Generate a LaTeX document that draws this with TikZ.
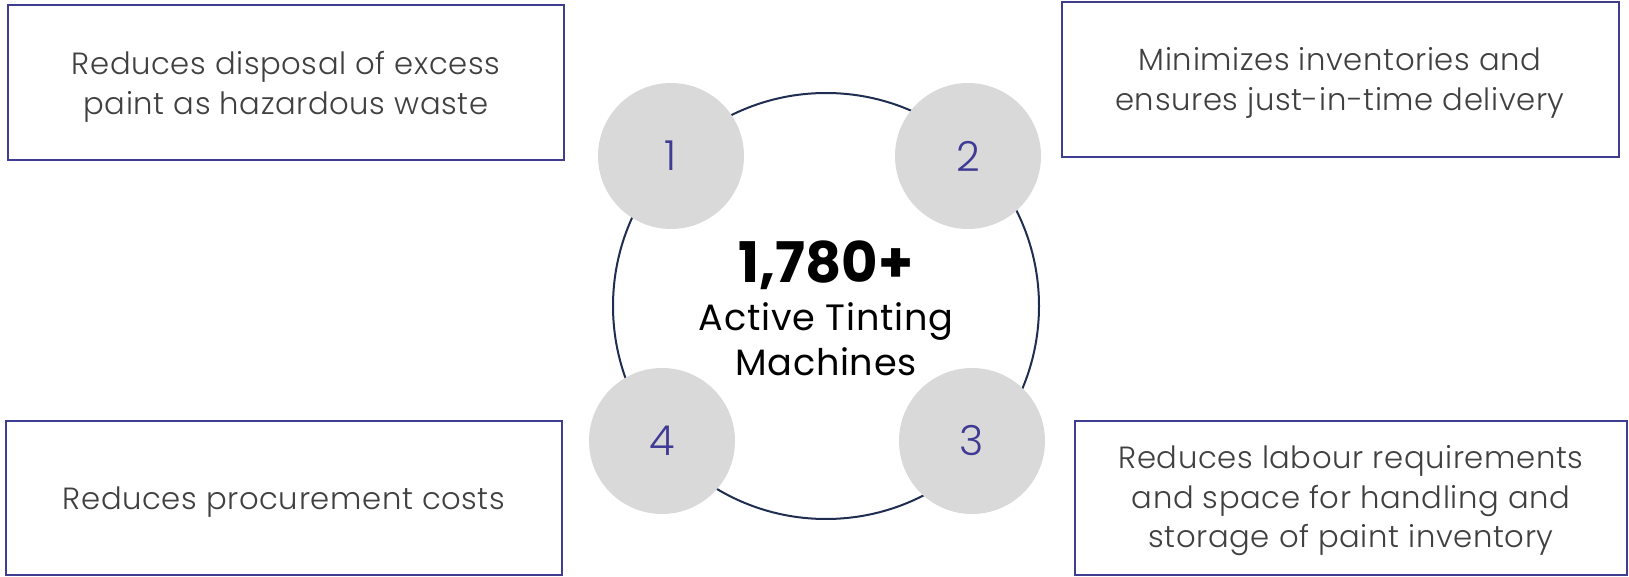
\documentclass[tikz,border=0pt]{standalone}
\usepackage{fontspec}
\setmainfont{Poppins}
\newfontfamily\lightfont{Poppins Light}
\definecolor{boxline}{HTML}{3F3D8F}
\definecolor{ringline}{HTML}{1F2D50}
\definecolor{dotfill}{HTML}{D9D9D9}
\definecolor{numcol}{HTML}{3F3A94}
\definecolor{txt}{HTML}{404040}
\begin{document}
\begin{tikzpicture}[x=0.75pt,y=-0.75pt,
  benefit/.style={draw=boxline,line width=1.6pt,fill=white,inner sep=0pt},
  btext/.style={text=txt,align=center,font=\lightfont\fontsize{23}{29.6}\selectfont\addfontfeature{LetterSpace=2}},
  dot/.style={circle,fill=dotfill,minimum size=146*0.75pt,inner sep=0pt,text=numcol,font=\lightfont\fontsize{31}{36}\selectfont},
  ring/.style={draw=ringline,line width=1.5pt},
  ctext/.style={anchor=base,font=\fontsize{27.5}{30}\selectfont\addfontfeature{LetterSpace=2}}]
\useasboundingbox (0,0) rectangle (1629,577);
% boxes
\draw[benefit] (8,5) rectangle (564,160);
\draw[benefit] (1062,2) rectangle (1619,157);
\draw[benefit] (1075,421) rectangle (1627,575);
\draw[benefit] (6,421) rectangle (562,575);
\node[btext] (t1) at (286,87) {Reduces disposal of excess\\paint as hazardous waste};
\node[btext] (t2) at (1340,83) {Minimizes inventories and\\ensures just-in-time delivery};
\node[btext] (t3) at (1351,501) {Reduces labour requirements\\and space for handling and\\storage of paint inventory};
\node[btext] (t4) at (284,502) {Reduces procurement costs};
% ring
\draw[ring] (826,306) circle (213);
% dots
\node[dot] (d1) at (671,156) {1};
\node[dot] (d2) at (968,156) {2};
\node[dot] (d3) at (972,441) {3};
\node[dot] (d4) at (662,441) {4};
% centre text
\node[anchor=base,font=\fontsize{42}{48}\selectfont\bfseries] (big) at (826,283) {1,780+};
\node[ctext] (l1) at (826,331) {Active Tinting};
\node[ctext] (l2) at (826,376) {Machines};
\end{tikzpicture}
\end{document}
